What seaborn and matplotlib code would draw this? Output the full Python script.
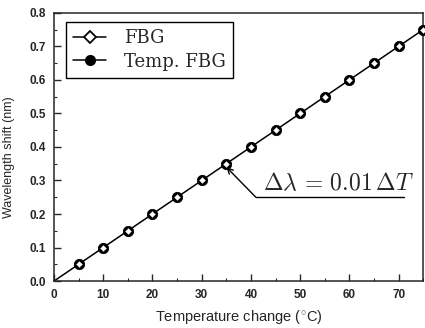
import matplotlib
matplotlib.use("Agg")
import matplotlib.pyplot as plt
import seaborn as sns
from matplotlib.ticker import MultipleLocator
from matplotlib.lines import Line2D

# data
temp_change = [0, 5, 10, 15, 20, 25, 30, 35, 40, 45, 50, 55, 60, 65, 70, 75]
shift_fbg = [0.0, 0.05, 0.10, 0.15, 0.20, 0.25, 0.30, 0.35, 0.40, 0.45, 0.50, 0.55, 0.60, 0.65, 0.70, 0.75]
shift_temp_fbg = [0.0, 0.05, 0.10, 0.15, 0.20, 0.25, 0.30, 0.35, 0.40, 0.45, 0.50, 0.55, 0.60, 0.65, 0.70, 0.75]
x_ticks = [0, 10, 20, 30, 40, 50, 60, 70]
y_ticks = [0.0, 0.1, 0.2, 0.3, 0.4, 0.5, 0.6, 0.7, 0.8]

sns.set_style("ticks")
plt.rcParams["font.family"] = ["Liberation Sans", "DejaVu Sans"]
plt.rcParams["mathtext.fontset"] = "cm"

fig = plt.figure(figsize=(4.25, 3.28), dpi=100)
ax = fig.add_axes([0.127, 0.143, 0.869, 0.818])

sns.lineplot(x=temp_change, y=shift_fbg, ax=ax, color="black", linewidth=1.1)
sns.scatterplot(x=temp_change[1:], y=shift_temp_fbg[1:], ax=ax, marker="o", s=55,
                color="black", edgecolor="black", zorder=3, clip_on=False)
sns.scatterplot(x=temp_change[1:], y=shift_fbg[1:], ax=ax, marker="D", s=9,
                color="white", edgecolor="white", zorder=4, clip_on=False)

ax.set_xlim(0, 75)
ax.set_ylim(0, 0.8)
ax.set_xticks(x_ticks)
ax.set_yticks(y_ticks)
ax.set_yticklabels([f"{v:.1f}" for v in y_ticks])
ax.xaxis.set_minor_locator(MultipleLocator(5))
ax.yaxis.set_minor_locator(MultipleLocator(0.05))
ax.tick_params(which="major", direction="in", length=5, width=1.0, labelsize=8.5, pad=6)
ax.tick_params(which="minor", direction="in", length=2.5, width=0.8)
for lab in ax.get_xticklabels() + ax.get_yticklabels():
    lab.set_fontweight("bold")
for sp in ax.spines.values():
    sp.set_linewidth(1.1)
    sp.set_visible(True)

ax.set_xlabel("Temperature change ($^{\\circ}$C)", fontsize=10.5, labelpad=5)
ax.set_ylabel("Wavelength shift (nm)", fontsize=9)
ax.yaxis.set_label_coords(-0.105, 0.46)

# annotation with arrow and underline
ax.plot([41, 71], [0.25, 0.25], color="black", linewidth=1.0)
ax.annotate("", xy=(35, 0.34), xytext=(41, 0.25),
            arrowprops=dict(arrowstyle="->", color="black", lw=1.0, shrinkA=0, shrinkB=0))
ax.text(42.5, 0.257, r"$\Delta\lambda\,=\,0.01\,\Delta T$", fontsize=17, ha="left", va="bottom")

handles = [
    Line2D([], [], color="black", marker="D", markerfacecolor="white", markeredgecolor="black",
           markersize=6, markeredgewidth=1.3, lw=1.1),
    Line2D([], [], color="black", marker="o", markerfacecolor="black", markersize=7, lw=1.1),
]
leg = ax.legend(handles, ["FBG", "Temp. FBG"], loc="upper left", bbox_to_anchor=(0.033, 0.966),
                frameon=True, fancybox=False, edgecolor="black", framealpha=1,
                prop={"family": "DejaVu Serif", "size": 13}, handlelength=1.8,
                borderpad=0.4, labelspacing=0.3, handletextpad=1.0, borderaxespad=0)
leg.get_frame().set_linewidth(1.0)

fig.savefig("out.png", dpi=100)
